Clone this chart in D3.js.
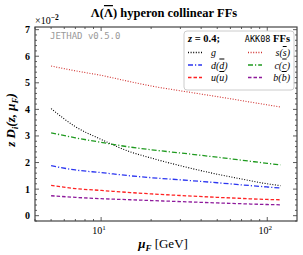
<!DOCTYPE html>
<html lang="en">
<head>
  <meta charset="UTF-8">
  <title>Lambda hyperon collinear FFs</title>
  <script src="https://d3js.org/d3.v7.min.js"></script>
  <style>
    body { margin: 0; background: #fff; }
    text { font-family: "Liberation Serif", "DejaVu Serif", serif; }
    .ol { text-decoration: overline; }
  </style>
</head>
<body>
<div id="chart"></div>
<script>
  // Werte
  var mu = [5, 7, 10, 15, 20, 30, 50, 70, 100, 120];
  var sVals = [5.63, 5.45, 5.28, 5.04, 4.88, 4.70, 4.48, 4.33, 4.17, 4.09];
  var gVals = [4.03, 3.35, 2.87, 2.40, 2.17, 1.88, 1.56, 1.38, 1.20, 1.13];
  var cVals = [3.12, 2.93, 2.76, 2.58, 2.48, 2.36, 2.20, 2.09, 1.97, 1.91];
  var dVals = [1.88, 1.72, 1.62, 1.50, 1.43, 1.35, 1.24, 1.16, 1.08, 1.04];
  var uVals = [1.14, 1.02, 0.95, 0.87, 0.82, 0.76, 0.69, 0.65, 0.61, 0.60];
  var bVals = [0.75, 0.69, 0.64, 0.60, 0.57, 0.53, 0.48, 0.45, 0.42, 0.41];
  var yTicks = [0, 1, 2, 3, 4, 5, 6, 7];
  var xTicks = [10, 100];

  var series = [
    { name: 'g', values: gVals, color: '#000', dash: '1,1.6', width: 1.1 },
    { name: 's', values: sVals, color: '#d0302e', dash: '1,1.6', width: 1.1 },
    { name: 'd', values: dVals, color: '#2b35f0', dash: '5,2,1.2,2', width: 1.3 },
    { name: 'c', values: cVals, color: '#1f9a1f', dash: '5,2,1.2,2', width: 1.3 },
    { name: 'u', values: uVals, color: '#ff2222', dash: '3.5,2', width: 1.3 },
    { name: 'b', values: bVals, color: '#8e1a9c', dash: '3.5,2', width: 1.3 }
  ];

  var W = 303, H = 255;
  var margin = { top: 27, right: 6, bottom: 34, left: 35 };
  var width = W - margin.left - margin.right;
  var height = H - margin.top - margin.bottom;

  var svg = d3.select('#chart').append('svg')
    .attr('width', W).attr('height', H);

  var g = svg.append('g')
    .attr('transform', 'translate(' + margin.left + ',' + margin.top + ')');

  var x = d3.scaleLog().domain([4.0, 151]).range([0, width]);
  var y = d3.scaleLinear().domain([-0.2, 7.1]).range([height, 0]);

  // Titel
  var title = svg.append('text')
    .attr('x', 164).attr('y', 17)
    .attr('text-anchor', 'middle')
    .style('font-size', '12.5px').style('font-weight', 'bold');
  title.append('tspan').text('\u039B(');
  title.append('tspan').attr('class', 'ol').text('\u039B');
  title.append('tspan').text(') hyperon collinear FFs');

  // x10^-2
  var mult = svg.append('text').attr('x', 35).attr('y', 24)
    .style('font-size', '10px');
  mult.append('tspan').text('\u00D710');
  mult.append('tspan').attr('dy', -4).style('font-size', '7.5px').style('font-weight', 'bold').text('\u22122');

  // Ticks
  var minorX = [4, 5, 6, 7, 8, 9, 20, 30, 40, 50, 60, 70, 80, 90];
  var minorY = d3.range(-0.2, 7.05, 0.2).filter(function(v) { return Math.abs(v - Math.round(v)) > 0.01; });

  var tickColor = '#333';
  function vTicks(vals, len, yy, dir) {
    g.selectAll(null).data(vals).enter().append('line')
      .attr('x1', function(d) { return x(d); }).attr('x2', function(d) { return x(d); })
      .attr('y1', yy).attr('y2', yy + dir * len)
      .attr('stroke', tickColor).attr('stroke-width', 0.8);
  }
  function hTicks(vals, len, xx, dir) {
    g.selectAll(null).data(vals).enter().append('line')
      .attr('y1', function(d) { return y(d); }).attr('y2', function(d) { return y(d); })
      .attr('x1', xx).attr('x2', xx + dir * len)
      .attr('stroke', tickColor).attr('stroke-width', 0.8);
  }
  vTicks(xTicks, 4, height, -1);
  vTicks(minorX, 2, height, -1);
  vTicks(xTicks, 4, 0, 1);
  vTicks(minorX, 2, 0, 1);
  hTicks(yTicks, 4, 0, 1);
  hTicks(minorY, 2, 0, 1);
  hTicks(yTicks, 4, width, -1);
  hTicks(minorY, 2, width, -1);

  // Tick labels
  g.selectAll(null).data(yTicks).enter().append('text')
    .attr('x', -5).attr('y', function(d) { return y(d) + 3.5; })
    .attr('text-anchor', 'end')
    .style('font-size', '10px').style('font-weight', 'bold')
    .text(function(d) { return d; });

  xTicks.forEach(function(v) {
    var t = g.append('text').attr('x', x(v) - 2).attr('y', height + 13)
      .attr('text-anchor', 'middle').style('font-size', '10px');
    t.append('tspan').text('10');
    t.append('tspan').attr('dy', -4).style('font-size', '7px').text(Math.round(Math.log10(v)));
  });

  // Rahmen
  g.append('rect').attr('x', 0).attr('y', 0).attr('width', width).attr('height', height)
    .attr('fill', 'none').attr('stroke', '#444').attr('stroke-width', 1.2);

  // Achsentitel
  var xl = svg.append('text').attr('x', 163).attr('y', 248)
    .attr('text-anchor', 'middle').style('font-size', '13px');
  xl.append('tspan').style('font-style', 'italic').style('font-weight', 'bold').text('\u03BC');
  xl.append('tspan').attr('dy', 3).style('font-size', '9px').style('font-style', 'italic').style('font-weight', 'bold').text('F');
  xl.append('tspan').attr('dy', -3).text(' [GeV]');

  var yl = svg.append('text')
    .attr('transform', 'translate(15,' + (margin.top + height / 2 - 4) + ') rotate(-90)')
    .attr('text-anchor', 'middle')
    .style('font-size', '13px').style('font-style', 'italic').style('font-weight', 'bold');
  yl.append('tspan').text('z D');
  yl.append('tspan').attr('dy', 3).style('font-size', '9px').text('i');
  yl.append('tspan').attr('dy', -3).text('(z, \u03BC');
  yl.append('tspan').attr('dy', 3).style('font-size', '9px').text('F');
  yl.append('tspan').attr('dy', -3).text(')');

  // JETHAD Marke
  svg.append('text').attr('x', 50).attr('y', 38.5)
    .style('font-family', '"DejaVu Sans Mono", monospace')
    .style('font-size', '9px').attr('fill', '#999')
    .text('JETHAD v0.5.0');

  // Kurven
  var line = d3.line()
    .x(function(d) { return x(d[0]); })
    .y(function(d) { return y(d[1]); })
    .curve(d3.curveMonotoneX);

  series.forEach(function(s) {
    g.append('path')
      .datum(mu.map(function(m, i) { return [m, s.values[i]]; }))
      .attr('fill', 'none')
      .attr('stroke', s.color)
      .attr('stroke-width', s.width)
      .attr('stroke-dasharray', s.dash)
      .attr('d', line);
  });

  // Legende
  var leg = svg.append('g');
  leg.append('rect').attr('x', 184).attr('y', 31).attr('width', 110).attr('height', 59)
    .attr('rx', 3).attr('fill', '#fff').attr('fill-opacity', 0.9)
    .attr('stroke', '#ccc').attr('stroke-width', 1);

  var lt = leg.append('text').attr('x', 188).attr('y', 42).style('font-size', '10.5px').style('font-weight', 'bold');
  lt.append('tspan').style('font-style', 'italic').text('z');
  lt.append('tspan').text(' = 0.4;');
  var lt2 = leg.append('text').attr('x', 290).attr('y', 42).attr('text-anchor', 'end').style('font-size', '10.5px');
  lt2.append('tspan').style('font-family', '"DejaVu Sans Mono", monospace').style('font-size', '8.5px').text('AKK08');
  lt2.append('tspan').style('font-weight', 'bold').text(' FFs');

  series.forEach(function(s, i) {
    var col = i % 2, row = Math.floor(i / 2);
    var lx = col === 0 ? 188 : 248;
    var ly = 52.5 + row * 12.5;
    leg.append('line').attr('x1', lx).attr('x2', lx + 14).attr('y1', ly).attr('y2', ly)
      .attr('stroke', s.color).attr('stroke-width', s.width + 0.3).attr('stroke-dasharray', s.dash);
    var tx = col === 0 ? 211 : 290;
    var t = leg.append('text').attr('x', tx).attr('y', ly + 3.5)
      .attr('text-anchor', col === 0 ? 'start' : 'end')
      .style('font-size', '10px').style('font-style', 'italic');
    if (s.name === 'g') {
      t.text('g');
    } else {
      t.append('tspan').text(s.name + '(');
      t.append('tspan').attr('class', 'ol').text(s.name);
      t.append('tspan').text(')');
    }
  });
</script>
</body>
</html>
